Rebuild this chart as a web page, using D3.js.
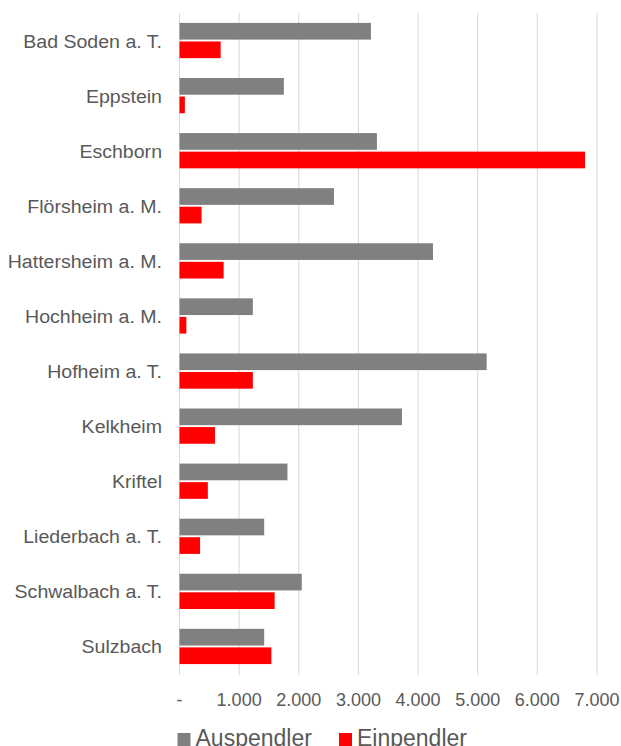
<!DOCTYPE html>
<html>
<head>
<meta charset="utf-8">
<script src="https://cdn.jsdelivr.net/npm/d3@7"></script>
<style>
  html, body { margin: 0; padding: 0; background: #fff; }
  svg { display: block; }
  text { font-family: "Liberation Sans", Arial, sans-serif; fill: #595959; }
</style>
</head>
<body>
<svg id="chart" width="621" height="746"></svg>
<script>
const categories = ["Bad Soden a. T.", "Eppstein", "Eschborn", "Flörsheim a. M.", "Hattersheim a. M.", "Hochheim a. M.", "Hofheim a. T.", "Kelkheim", "Kriftel", "Liederbach a. T.", "Schwalbach a. T.", "Sulzbach"];
const seriesNames = ["Auspendler", "Einpendler"];
const auspendler = [3210, 1750, 3310, 2590, 4250, 1230, 5150, 3730, 1810, 1420, 2050, 1420];
const einpendler = [690, 90, 6800, 370, 740, 115, 1230, 595, 475, 345, 1595, 1540];
const tickValues = [0, 1000, 2000, 3000, 4000, 5000, 6000, 7000];
const tickLabels = ["-", "1.000", "2.000", "3.000", "4.000", "5.000", "6.000", "7.000"];
const seriesColors = ["#808080", "#ff0000"];

const svg = d3.select("#chart");

const x = d3.scaleLinear().domain([0, 7000]).range([179.5, 597]);
const y = d3.scaleBand().domain(categories).range([13, 674]).padding(0);
const inner = d3.scaleBand().domain(seriesNames)
  .range([y.bandwidth() * 0.18, y.bandwidth() * 0.82]).paddingInner(0.1);
const color = d3.scaleOrdinal().domain(seriesNames).range(seriesColors);

// gridlines
svg.append("g").selectAll("line").data(tickValues).join("line")
  .attr("x1", d => x(d)).attr("x2", d => x(d))
  .attr("y1", 13).attr("y2", 675)
  .attr("stroke", "#d9d9d9").attr("stroke-width", 1);

// bars
const rows = categories.map((c, i) => ({ c, vals: [auspendler[i], einpendler[i]] }));
const grp = svg.append("g").selectAll("g").data(rows).join("g")
  .attr("transform", d => `translate(0,${y(d.c)})`);
grp.selectAll("rect").data(d => d.vals.map((v, j) => ({ s: seriesNames[j], v })))
  .join("rect")
  .attr("x", x(0)).attr("y", d => inner(d.s))
  .attr("width", d => x(d.v) - x(0))
  .attr("height", inner.bandwidth())
  .attr("fill", d => color(d.s));

// category labels
svg.append("g").selectAll("text").data(categories).join("text")
  .attr("transform", d => `translate(162,${y(d) + y.bandwidth() / 2 + 7}) scale(1.03,1)`)
  .attr("text-anchor", "end")
  .attr("font-size", 19)
  .text(d => d);

// x tick labels
svg.append("g").selectAll("text").data(tickValues).join("text")
  .attr("x", d => x(d)).attr("y", 706)
  .attr("text-anchor", "middle")
  .attr("font-size", 18)
  .text((d, i) => tickLabels[i]);

// legend
const legX = [177.5, 339];
const lg = svg.append("g").selectAll("g").data(seriesNames).join("g")
  .attr("transform", (d, i) => `translate(${legX[i]},0)`);
lg.append("rect").attr("x", 0).attr("y", 733).attr("width", 13).attr("height", 13)
  .attr("fill", d => color(d));
lg.append("text")
  .attr("x", 18).attr("y", 746)
  .attr("font-size", 23)
  .text(d => d);
</script>
</body>
</html>
